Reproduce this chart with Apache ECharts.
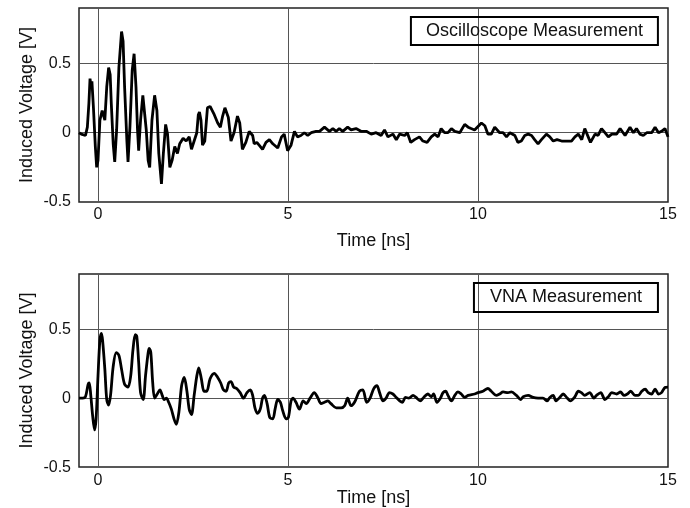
<!DOCTYPE html>
<html>
<head>
<meta charset="utf-8">
<script src="https://cdn.jsdelivr.net/npm/echarts@6/dist/echarts.min.js"></script>
<style>html,body{margin:0;padding:0;background:#fff}#c{width:690px;height:508px}</style>
</head>
<body>
<div id="c"></div>
<script>
// ---- data ----
var xTicks = [0, 5, 10, 15];
var yTicks = [-0.5, 0, 0.5];
var legendTop = 'Oscilloscope Measurement';
var legendBottom = 'VNA Measurement';
var xName = 'Time [ns]';
var yName = 'Induced Voltage [V]';

var timeTop = [-0.50,-0.44,-0.33,-0.28,-0.24,-0.21,-0.18,-0.16,-0.12,-0.07,-0.035,0.00,0.05,0.11,0.14,0.18,0.23,0.28,0.32,0.35,0.40,0.44,0.49,0.55,0.62,0.66,0.70,0.76,0.79,0.84,0.90,0.95,1.00,1.04,1.07,1.12,1.18,1.21,1.27,1.32,1.36,1.42,1.49,1.55,1.60,1.67,1.72,1.78,1.83,1.89,1.95,2.02,2.09,2.15,2.24,2.32,2.40,2.46,2.53,2.60,2.64,2.67,2.71,2.75,2.81,2.88,2.95,3.06,3.15,3.22,3.28,3.34,3.43,3.50,3.58,3.67,3.73,3.80,3.89,3.98,4.07,4.11,4.18,4.24,4.33,4.42,4.51,4.60,4.73,4.83,4.90,4.99,5.08,5.17,5.25,5.34,5.43,5.52,5.61,5.74,5.83,5.96,6.09,6.18,6.27,6.35,6.44,6.57,6.66,6.79,6.92,7.06,7.19,7.32,7.45,7.54,7.63,7.76,7.85,7.94,8.07,8.14,8.23,8.33,8.46,8.55,8.66,8.77,8.86,8.95,9.03,9.12,9.21,9.30,9.39,9.52,9.65,9.74,9.82,9.91,9.96,10.09,10.18,10.26,10.35,10.44,10.57,10.66,10.75,10.84,10.97,11.05,11.14,11.23,11.32,11.41,11.49,11.58,11.67,11.80,11.89,11.98,12.08,12.20,12.33,12.46,12.55,12.64,12.73,12.81,12.90,12.96,13.08,13.16,13.25,13.34,13.43,13.52,13.65,13.74,13.87,14.00,14.09,14.17,14.26,14.35,14.44,14.57,14.66,14.75,14.83,14.92,15.00];
var voltTop = [0.00,-0.01,-0.02,0.04,0.21,0.39,0.33,0.37,0.18,-0.10,-0.25,-0.20,0.09,0.16,0.17,0.09,0.33,0.47,0.42,0.21,-0.08,-0.21,0.02,0.47,0.73,0.66,0.33,-0.06,-0.21,0.04,0.45,0.57,0.33,0.02,-0.13,0.09,0.27,0.28,0.02,-0.20,-0.25,0.09,0.27,0.16,-0.15,-0.37,-0.15,0.06,-0.01,-0.25,-0.20,-0.10,-0.15,-0.08,-0.04,-0.06,-0.03,-0.12,-0.06,0.00,0.13,0.15,0.09,-0.09,-0.06,0.18,0.19,0.13,0.07,0.04,0.12,0.18,0.11,-0.06,0.00,0.12,0.07,-0.12,-0.07,0.01,-0.02,-0.08,-0.07,-0.09,-0.12,-0.07,-0.05,-0.08,-0.11,-0.03,-0.01,-0.13,-0.09,0.01,-0.03,-0.02,0.00,-0.02,0.00,0.01,0.01,0.04,0.01,0.03,0.01,0.03,0.01,0.04,0.02,0.03,0.01,0.01,-0.01,0.00,-0.02,0.02,-0.03,-0.01,-0.05,-0.01,-0.02,0.00,-0.07,-0.05,-0.03,-0.06,-0.07,-0.03,-0.01,-0.03,0.03,0.00,0.00,0.03,0.01,0.00,0.06,0.04,0.03,0.02,0.03,0.07,0.05,-0.01,-0.01,0.04,0.00,0.00,-0.03,0.00,-0.02,-0.07,-0.06,-0.02,-0.01,-0.02,-0.05,-0.08,-0.05,-0.01,-0.03,-0.06,-0.05,-0.06,-0.06,-0.06,-0.03,-0.01,-0.05,0.03,-0.03,-0.07,-0.01,-0.02,0.03,0.00,-0.03,-0.01,-0.01,0.03,-0.02,0.04,0.00,0.03,-0.01,-0.02,0.00,0.00,0.04,0.00,0.01,0.03,-0.03];

var timeBottom = [-0.50,-0.40,-0.33,-0.26,-0.23,-0.19,-0.14,-0.09,-0.05,0.00,0.05,0.09,0.12,0.18,0.23,0.28,0.33,0.40,0.48,0.55,0.62,0.70,0.79,0.86,0.92,0.98,1.02,1.07,1.12,1.19,1.25,1.32,1.35,1.39,1.44,1.49,1.56,1.63,1.69,1.74,1.80,1.86,1.93,2.00,2.06,2.13,2.20,2.27,2.34,2.40,2.46,2.53,2.60,2.65,2.72,2.79,2.86,2.95,3.06,3.15,3.23,3.30,3.37,3.44,3.50,3.57,3.65,3.74,3.83,3.92,4.01,4.07,4.13,4.20,4.27,4.33,4.38,4.45,4.52,4.60,4.66,4.73,4.80,4.86,4.95,5.01,5.08,5.13,5.21,5.30,5.40,5.48,5.58,5.69,5.78,5.87,5.96,6.05,6.13,6.27,6.40,6.49,6.57,6.66,6.75,6.88,6.97,7.07,7.16,7.25,7.34,7.41,7.50,7.58,7.67,7.76,7.85,7.94,8.01,8.09,8.18,8.29,8.37,8.48,8.57,8.68,8.77,8.83,8.92,9.01,9.08,9.15,9.21,9.30,9.39,9.47,9.56,9.65,9.74,9.91,10.00,10.13,10.26,10.35,10.48,10.57,10.66,10.79,10.88,11.01,11.12,11.19,11.32,11.45,11.58,11.71,11.82,11.89,11.98,12.05,12.15,12.24,12.35,12.43,12.55,12.64,12.72,12.81,12.94,13.05,13.12,13.23,13.34,13.43,13.52,13.65,13.75,13.84,13.93,14.02,14.13,14.22,14.31,14.40,14.48,14.57,14.66,14.75,14.83,14.92,15.00];
var voltBottom = [0.00,0.00,0.01,0.10,0.11,0.02,-0.13,-0.23,-0.15,0.16,0.42,0.47,0.42,0.21,-0.01,-0.05,0.02,0.23,0.33,0.31,0.21,0.10,0.08,0.16,0.35,0.46,0.45,0.26,0.04,-0.01,0.16,0.33,0.36,0.33,0.11,0.00,0.03,0.06,0.02,-0.01,0.00,-0.03,-0.08,-0.15,-0.19,-0.10,0.09,0.15,0.05,-0.08,-0.12,0.02,0.16,0.22,0.14,0.05,0.05,0.14,0.18,0.15,0.11,0.06,0.05,0.11,0.12,0.08,0.07,0.04,0.00,0.04,0.06,0.02,-0.07,-0.11,-0.08,0.00,0.02,-0.04,-0.14,-0.15,-0.08,-0.01,-0.03,-0.09,-0.15,-0.14,-0.02,0.00,-0.03,-0.08,-0.02,-0.04,0.00,0.04,0.005,-0.04,-0.03,-0.02,-0.04,-0.07,-0.07,-0.055,0.00,-0.055,-0.03,0.05,0.06,-0.03,0.00,0.065,0.09,0.04,-0.02,0.00,0.04,0.03,0.005,-0.02,-0.03,0.005,0.00,0.02,0.005,-0.02,0.005,0.03,0.01,0.03,-0.03,0.00,0.04,0.05,0.02,-0.02,0.02,0.045,0.03,0.005,0.02,0.03,0.04,0.05,0.07,0.05,0.02,0.03,0.045,0.04,0.045,0.02,-0.01,0.01,0.02,0.005,0.00,0.00,-0.02,0.005,0.02,-0.02,0.005,0.03,0.00,-0.02,0.01,0.05,0.04,0.02,0.04,0.00,0.02,0.04,-0.01,0.01,0.04,0.03,0.045,0.02,0.03,0.05,0.02,0.02,0.05,0.065,0.04,0.03,0.065,0.03,0.04,0.077,0.08];

function pairs(t, v) { return t.map(function (x, i) { return [x, v[i]]; }); }

var FONT = '"Liberation Sans", Arial, sans-serif';
var gridColor = '#555';

function xAxisCfg(gridIndex, nameGap) {
  return {
    type: 'value', gridIndex: gridIndex, min: -0.5, max: 15,
    name: xName, nameLocation: 'middle', nameGap: nameGap,
    nameTextStyle: { fontSize: 18, color: '#111', fontFamily: FONT },
    axisLine: { show: false }, axisTick: { show: false }, splitLine: { show: false },
    axisLabel: { customValues: xTicks, fontSize: 16, color: '#111', margin: 5, fontFamily: FONT }
  };
}
function yAxisCfg(gridIndex) {
  return {
    type: 'value', gridIndex: gridIndex, min: -0.5, max: 0.9,
    name: yName, nameLocation: 'middle', nameGap: 43, nameRotate: 90, nameMoveOverlap: false,
    nameTextStyle: { fontSize: 18, color: '#111', fontFamily: FONT },
    axisLine: { show: false }, axisTick: { show: false }, splitLine: { show: false },
    axisLabel: { customValues: yTicks, fontSize: 16, color: '#111', margin: 8, fontFamily: FONT }
  };
}
function gridLines() {
  var d = xTicks.filter(function (v) { return v < 15; }).map(function (v) { return { xAxis: v }; })
    .concat(yTicks.filter(function (v) { return v > -0.5; }).map(function (v) { return { yAxis: v }; }));
  return {
    silent: true, symbol: 'none', z: 1, animation: false,
    label: { show: false },
    lineStyle: { color: gridColor, width: 1, type: 'solid' },
    emphasis: { disabled: true },
    data: d
  };
}

var chart = echarts.init(document.getElementById('c'), null, { renderer: 'canvas' });
chart.setOption({
  animation: false,
  backgroundColor: '#fff',
  grid: [
    { left: 79, top: 8, width: 589, height: 194, show: true, borderColor: '#222', borderWidth: 1.5, backgroundColor: 'transparent' },
    { left: 79, top: 274, width: 589, height: 195, show: true, borderColor: '#222', borderWidth: 1.5, backgroundColor: 'transparent' }
  ],
  title: [
    { text: legendTop, right: 32, top: 17, borderColor: '#000', borderWidth: 2, padding: [4, 15, 4, 15],
      textStyle: { fontSize: 18, fontWeight: 'normal', color: '#111', fontFamily: FONT, lineHeight: 20 } },
    { text: legendBottom, right: 32, top: 283, borderColor: '#000', borderWidth: 2, padding: [4, 16, 5, 16],
      textStyle: { fontSize: 18, fontWeight: 'normal', color: '#111', fontFamily: FONT, lineHeight: 20 } }
  ],
  xAxis: [xAxisCfg(0, 30), xAxisCfg(1, 14)],
  yAxis: [yAxisCfg(0), yAxisCfg(1)],
  series: [
    { type: 'line', xAxisIndex: 0, yAxisIndex: 0, data: pairs(timeTop, voltTop), showSymbol: false, z: 3,
      lineStyle: { color: '#000', width: 2.8 }, markLine: gridLines() },
    { type: 'line', xAxisIndex: 1, yAxisIndex: 1, data: pairs(timeBottom, voltBottom), showSymbol: false, z: 3,
      smooth: 0.3, lineStyle: { color: '#000', width: 2.8 }, markLine: gridLines() }
  ]
});
</script>
</body>
</html>
